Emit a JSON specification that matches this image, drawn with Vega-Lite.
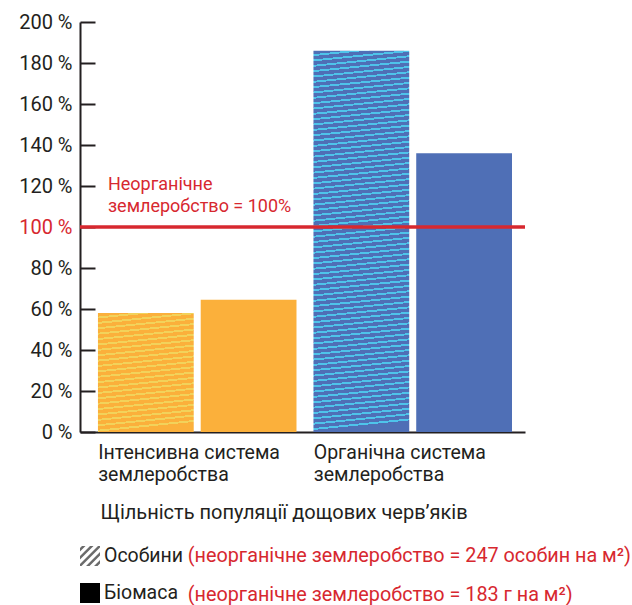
{
"$schema": "https://vega.github.io/schema/vega-lite/v6.json",
"width": 445,
"height": 410,
"autosize": {"type": "none"},
"padding": {"left": 80, "top": 22, "right": 107, "bottom": 173},
"config": {"font": "Roboto", "view": {"stroke": null}},
"data": {"values": [
{"system": "Інтенсивна система землеробства", "measure": "Особини", "value": 58, "note": "(неорганічне землеробство = 247 особин на м²)"},
{"system": "Інтенсивна система землеробства", "measure": "Біомаса", "value": 64.5, "note": "(неорганічне землеробство = 183 г на м²)"},
{"system": "Органічна система землеробства", "measure": "Особини", "value": 186, "note": "(неорганічне землеробство = 247 особин на м²)"},
{"system": "Органічна система землеробства", "measure": "Біомаса", "value": 136, "note": "(неорганічне землеробство = 183 г на м²)"}
]},
"layer": [
{
"encoding": {
"x": {"field": "system", "type": "nominal", "sort": ["Інтенсивна система землеробства", "Органічна система землеробства"],
 "scale": {"paddingInner": 0.0787, "paddingOuter": 0.0718, "align": 0.58},
 "axis": {"title": "Щільність популяції дощових черв’яків", "titleFontSize": 20, "titleFontWeight": "normal", "titleColor": "#231f20", "titleAnchor": "start", "titleAlign": "left", "titleX": 20, "titlePadding": 19,
  "labelAngle": 0, "labelAlign": "left", "labelBaseline": "top", "labelOffset": -99, "labelPadding": 11, "labelFontSize": 19.5, "labelLineHeight": 22, "labelLimit": 300, "labelColor": "#231f20",
  "labelExpr": "[replace(datum.label, ' землеробства', ''), 'землеробства']",
  "ticks": false, "domainColor": "#231f20", "domainWidth": 2}},
"xOffset": {"field": "measure", "type": "nominal", "sort": ["Особини", "Біомаса"], "scale": {"paddingInner": 0.068, "paddingOuter": 0}},
"y": {"field": "value", "type": "quantitative", "scale": {"domain": [0, 200]},
 "axis": {"title": null, "values": [0, 20, 40, 60, 80, 100, 120, 140, 160, 180, 200], "labelExpr": "datum.value + ' %'", "labelFontSize": 20,
  "labelColor": {"condition": {"test": "datum.value === 100", "value": "#d7282f"}, "value": "#231f20"},
  "tickSize": -15, "tickWidth": 2, "tickColor": "#231f20", "domainColor": "#231f20", "domainWidth": 2, "labelPadding": 23, "grid": false}}
},
"layer": [
{"transform": [{"filter": "datum.measure === 'Біомаса'"}], "mark": {"type": "bar"},
 "encoding": {"color": {"field": "system", "type": "nominal", "scale": {"domain": ["Інтенсивна система землеробства", "Органічна система землеробства"], "range": ["#fbb03b", "#4f6fb6"]}, "legend": null}}},
{"transform": [{"filter": "datum.measure === 'Особини' && datum.system === 'Інтенсивна система землеробства'"}],
 "mark": {"type": "bar", "fill": {"gradient": "linear", "x1": 0, "y1": 0, "x2": 0.081, "y2": 1, "stops": [
{"offset":0,"color":"#fbb03b"},{"offset":0.029,"color":"#fbb03b"},{"offset":0.029,"color":"#f2d25a"},{"offset":0.045,"color":"#f2d25a"},
{"offset":0.045,"color":"#fbb03b"},{"offset":0.074,"color":"#fbb03b"},{"offset":0.074,"color":"#f2d25a"},{"offset":0.09,"color":"#f2d25a"},
{"offset":0.09,"color":"#fbb03b"},{"offset":0.119,"color":"#fbb03b"},{"offset":0.119,"color":"#f2d25a"},{"offset":0.135,"color":"#f2d25a"},
{"offset":0.135,"color":"#fbb03b"},{"offset":0.164,"color":"#fbb03b"},{"offset":0.164,"color":"#f2d25a"},{"offset":0.18,"color":"#f2d25a"},
{"offset":0.18,"color":"#fbb03b"},{"offset":0.209,"color":"#fbb03b"},{"offset":0.209,"color":"#f2d25a"},{"offset":0.225,"color":"#f2d25a"},
{"offset":0.225,"color":"#fbb03b"},{"offset":0.254,"color":"#fbb03b"},{"offset":0.254,"color":"#f2d25a"},{"offset":0.27,"color":"#f2d25a"},
{"offset":0.27,"color":"#fbb03b"},{"offset":0.299,"color":"#fbb03b"},{"offset":0.299,"color":"#f2d25a"},{"offset":0.315,"color":"#f2d25a"},
{"offset":0.315,"color":"#fbb03b"},{"offset":0.344,"color":"#fbb03b"},{"offset":0.344,"color":"#f2d25a"},{"offset":0.36,"color":"#f2d25a"},
{"offset":0.36,"color":"#fbb03b"},{"offset":0.389,"color":"#fbb03b"},{"offset":0.389,"color":"#f2d25a"},{"offset":0.405,"color":"#f2d25a"},
{"offset":0.405,"color":"#fbb03b"},{"offset":0.434,"color":"#fbb03b"},{"offset":0.434,"color":"#f2d25a"},{"offset":0.45,"color":"#f2d25a"},
{"offset":0.45,"color":"#fbb03b"},{"offset":0.479,"color":"#fbb03b"},{"offset":0.479,"color":"#f2d25a"},{"offset":0.495,"color":"#f2d25a"},
{"offset":0.495,"color":"#fbb03b"},{"offset":0.524,"color":"#fbb03b"},{"offset":0.524,"color":"#f2d25a"},{"offset":0.54,"color":"#f2d25a"},
{"offset":0.54,"color":"#fbb03b"},{"offset":0.569,"color":"#fbb03b"},{"offset":0.569,"color":"#f2d25a"},{"offset":0.585,"color":"#f2d25a"},
{"offset":0.585,"color":"#fbb03b"},{"offset":0.614,"color":"#fbb03b"},{"offset":0.614,"color":"#f2d25a"},{"offset":0.63,"color":"#f2d25a"},
{"offset":0.63,"color":"#fbb03b"},{"offset":0.659,"color":"#fbb03b"},{"offset":0.659,"color":"#f2d25a"},{"offset":0.675,"color":"#f2d25a"},
{"offset":0.675,"color":"#fbb03b"},{"offset":0.704,"color":"#fbb03b"},{"offset":0.704,"color":"#f2d25a"},{"offset":0.72,"color":"#f2d25a"},
{"offset":0.72,"color":"#fbb03b"},{"offset":0.749,"color":"#fbb03b"},{"offset":0.749,"color":"#f2d25a"},{"offset":0.765,"color":"#f2d25a"},
{"offset":0.765,"color":"#fbb03b"},{"offset":0.794,"color":"#fbb03b"},{"offset":0.794,"color":"#f2d25a"},{"offset":0.81,"color":"#f2d25a"},
{"offset":0.81,"color":"#fbb03b"},{"offset":0.839,"color":"#fbb03b"},{"offset":0.839,"color":"#f2d25a"},{"offset":0.855,"color":"#f2d25a"},
{"offset":0.855,"color":"#fbb03b"},{"offset":0.884,"color":"#fbb03b"},{"offset":0.884,"color":"#f2d25a"},{"offset":0.9,"color":"#f2d25a"},
{"offset":0.9,"color":"#fbb03b"},{"offset":0.929,"color":"#fbb03b"},{"offset":0.929,"color":"#f2d25a"},{"offset":0.945,"color":"#f2d25a"},
{"offset":0.945,"color":"#fbb03b"},{"offset":0.974,"color":"#fbb03b"},{"offset":0.974,"color":"#f2d25a"},{"offset":0.99,"color":"#f2d25a"},
{"offset":0.99,"color":"#fbb03b"},{"offset":1,"color":"#fbb03b"}
]}}},
{"transform": [{"filter": "datum.measure === 'Особини' && datum.system === 'Органічна система землеробства'"}],
 "mark": {"type": "bar", "fill": {"gradient": "linear", "x1": 0, "y1": 0, "x2": 0.025, "y2": 1, "stops": [
{"offset":0,"color":"#4f6fb6"},{"offset":0.009,"color":"#4f6fb6"},{"offset":0.009,"color":"#4ec3ea"},{"offset":0.014,"color":"#4ec3ea"},
{"offset":0.014,"color":"#4f6fb6"},{"offset":0.023,"color":"#4f6fb6"},{"offset":0.023,"color":"#4ec3ea"},{"offset":0.028,"color":"#4ec3ea"},
{"offset":0.028,"color":"#4f6fb6"},{"offset":0.037,"color":"#4f6fb6"},{"offset":0.037,"color":"#4ec3ea"},{"offset":0.042,"color":"#4ec3ea"},
{"offset":0.042,"color":"#4f6fb6"},{"offset":0.051,"color":"#4f6fb6"},{"offset":0.051,"color":"#4ec3ea"},{"offset":0.056,"color":"#4ec3ea"},
{"offset":0.056,"color":"#4f6fb6"},{"offset":0.065,"color":"#4f6fb6"},{"offset":0.065,"color":"#4ec3ea"},{"offset":0.07,"color":"#4ec3ea"},
{"offset":0.07,"color":"#4f6fb6"},{"offset":0.079,"color":"#4f6fb6"},{"offset":0.079,"color":"#4ec3ea"},{"offset":0.084,"color":"#4ec3ea"},
{"offset":0.084,"color":"#4f6fb6"},{"offset":0.093,"color":"#4f6fb6"},{"offset":0.093,"color":"#4ec3ea"},{"offset":0.098,"color":"#4ec3ea"},
{"offset":0.098,"color":"#4f6fb6"},{"offset":0.107,"color":"#4f6fb6"},{"offset":0.107,"color":"#4ec3ea"},{"offset":0.112,"color":"#4ec3ea"},
{"offset":0.112,"color":"#4f6fb6"},{"offset":0.121,"color":"#4f6fb6"},{"offset":0.121,"color":"#4ec3ea"},{"offset":0.126,"color":"#4ec3ea"},
{"offset":0.126,"color":"#4f6fb6"},{"offset":0.135,"color":"#4f6fb6"},{"offset":0.135,"color":"#4ec3ea"},{"offset":0.14,"color":"#4ec3ea"},
{"offset":0.14,"color":"#4f6fb6"},{"offset":0.149,"color":"#4f6fb6"},{"offset":0.149,"color":"#4ec3ea"},{"offset":0.154,"color":"#4ec3ea"},
{"offset":0.154,"color":"#4f6fb6"},{"offset":0.163,"color":"#4f6fb6"},{"offset":0.163,"color":"#4ec3ea"},{"offset":0.168,"color":"#4ec3ea"},
{"offset":0.168,"color":"#4f6fb6"},{"offset":0.177,"color":"#4f6fb6"},{"offset":0.177,"color":"#4ec3ea"},{"offset":0.182,"color":"#4ec3ea"},
{"offset":0.182,"color":"#4f6fb6"},{"offset":0.191,"color":"#4f6fb6"},{"offset":0.191,"color":"#4ec3ea"},{"offset":0.196,"color":"#4ec3ea"},
{"offset":0.196,"color":"#4f6fb6"},{"offset":0.205,"color":"#4f6fb6"},{"offset":0.205,"color":"#4ec3ea"},{"offset":0.21,"color":"#4ec3ea"},
{"offset":0.21,"color":"#4f6fb6"},{"offset":0.219,"color":"#4f6fb6"},{"offset":0.219,"color":"#4ec3ea"},{"offset":0.224,"color":"#4ec3ea"},
{"offset":0.224,"color":"#4f6fb6"},{"offset":0.233,"color":"#4f6fb6"},{"offset":0.233,"color":"#4ec3ea"},{"offset":0.238,"color":"#4ec3ea"},
{"offset":0.238,"color":"#4f6fb6"},{"offset":0.247,"color":"#4f6fb6"},{"offset":0.247,"color":"#4ec3ea"},{"offset":0.252,"color":"#4ec3ea"},
{"offset":0.252,"color":"#4f6fb6"},{"offset":0.261,"color":"#4f6fb6"},{"offset":0.261,"color":"#4ec3ea"},{"offset":0.266,"color":"#4ec3ea"},
{"offset":0.266,"color":"#4f6fb6"},{"offset":0.275,"color":"#4f6fb6"},{"offset":0.275,"color":"#4ec3ea"},{"offset":0.28,"color":"#4ec3ea"},
{"offset":0.28,"color":"#4f6fb6"},{"offset":0.289,"color":"#4f6fb6"},{"offset":0.289,"color":"#4ec3ea"},{"offset":0.294,"color":"#4ec3ea"},
{"offset":0.294,"color":"#4f6fb6"},{"offset":0.303,"color":"#4f6fb6"},{"offset":0.303,"color":"#4ec3ea"},{"offset":0.308,"color":"#4ec3ea"},
{"offset":0.308,"color":"#4f6fb6"},{"offset":0.317,"color":"#4f6fb6"},{"offset":0.317,"color":"#4ec3ea"},{"offset":0.322,"color":"#4ec3ea"},
{"offset":0.322,"color":"#4f6fb6"},{"offset":0.331,"color":"#4f6fb6"},{"offset":0.331,"color":"#4ec3ea"},{"offset":0.336,"color":"#4ec3ea"},
{"offset":0.336,"color":"#4f6fb6"},{"offset":0.345,"color":"#4f6fb6"},{"offset":0.345,"color":"#4ec3ea"},{"offset":0.35,"color":"#4ec3ea"},
{"offset":0.35,"color":"#4f6fb6"},{"offset":0.359,"color":"#4f6fb6"},{"offset":0.359,"color":"#4ec3ea"},{"offset":0.364,"color":"#4ec3ea"},
{"offset":0.364,"color":"#4f6fb6"},{"offset":0.373,"color":"#4f6fb6"},{"offset":0.373,"color":"#4ec3ea"},{"offset":0.378,"color":"#4ec3ea"},
{"offset":0.378,"color":"#4f6fb6"},{"offset":0.387,"color":"#4f6fb6"},{"offset":0.387,"color":"#4ec3ea"},{"offset":0.392,"color":"#4ec3ea"},
{"offset":0.392,"color":"#4f6fb6"},{"offset":0.401,"color":"#4f6fb6"},{"offset":0.401,"color":"#4ec3ea"},{"offset":0.406,"color":"#4ec3ea"},
{"offset":0.406,"color":"#4f6fb6"},{"offset":0.415,"color":"#4f6fb6"},{"offset":0.415,"color":"#4ec3ea"},{"offset":0.42,"color":"#4ec3ea"},
{"offset":0.42,"color":"#4f6fb6"},{"offset":0.429,"color":"#4f6fb6"},{"offset":0.429,"color":"#4ec3ea"},{"offset":0.434,"color":"#4ec3ea"},
{"offset":0.434,"color":"#4f6fb6"},{"offset":0.443,"color":"#4f6fb6"},{"offset":0.443,"color":"#4ec3ea"},{"offset":0.448,"color":"#4ec3ea"},
{"offset":0.448,"color":"#4f6fb6"},{"offset":0.457,"color":"#4f6fb6"},{"offset":0.457,"color":"#4ec3ea"},{"offset":0.462,"color":"#4ec3ea"},
{"offset":0.462,"color":"#4f6fb6"},{"offset":0.471,"color":"#4f6fb6"},{"offset":0.471,"color":"#4ec3ea"},{"offset":0.476,"color":"#4ec3ea"},
{"offset":0.476,"color":"#4f6fb6"},{"offset":0.485,"color":"#4f6fb6"},{"offset":0.485,"color":"#4ec3ea"},{"offset":0.49,"color":"#4ec3ea"},
{"offset":0.49,"color":"#4f6fb6"},{"offset":0.499,"color":"#4f6fb6"},{"offset":0.499,"color":"#4ec3ea"},{"offset":0.504,"color":"#4ec3ea"},
{"offset":0.504,"color":"#4f6fb6"},{"offset":0.513,"color":"#4f6fb6"},{"offset":0.513,"color":"#4ec3ea"},{"offset":0.518,"color":"#4ec3ea"},
{"offset":0.518,"color":"#4f6fb6"},{"offset":0.527,"color":"#4f6fb6"},{"offset":0.527,"color":"#4ec3ea"},{"offset":0.532,"color":"#4ec3ea"},
{"offset":0.532,"color":"#4f6fb6"},{"offset":0.541,"color":"#4f6fb6"},{"offset":0.541,"color":"#4ec3ea"},{"offset":0.546,"color":"#4ec3ea"},
{"offset":0.546,"color":"#4f6fb6"},{"offset":0.555,"color":"#4f6fb6"},{"offset":0.555,"color":"#4ec3ea"},{"offset":0.56,"color":"#4ec3ea"},
{"offset":0.56,"color":"#4f6fb6"},{"offset":0.569,"color":"#4f6fb6"},{"offset":0.569,"color":"#4ec3ea"},{"offset":0.574,"color":"#4ec3ea"},
{"offset":0.574,"color":"#4f6fb6"},{"offset":0.583,"color":"#4f6fb6"},{"offset":0.583,"color":"#4ec3ea"},{"offset":0.588,"color":"#4ec3ea"},
{"offset":0.588,"color":"#4f6fb6"},{"offset":0.597,"color":"#4f6fb6"},{"offset":0.597,"color":"#4ec3ea"},{"offset":0.602,"color":"#4ec3ea"},
{"offset":0.602,"color":"#4f6fb6"},{"offset":0.611,"color":"#4f6fb6"},{"offset":0.611,"color":"#4ec3ea"},{"offset":0.616,"color":"#4ec3ea"},
{"offset":0.616,"color":"#4f6fb6"},{"offset":0.625,"color":"#4f6fb6"},{"offset":0.625,"color":"#4ec3ea"},{"offset":0.63,"color":"#4ec3ea"},
{"offset":0.63,"color":"#4f6fb6"},{"offset":0.639,"color":"#4f6fb6"},{"offset":0.639,"color":"#4ec3ea"},{"offset":0.644,"color":"#4ec3ea"},
{"offset":0.644,"color":"#4f6fb6"},{"offset":0.653,"color":"#4f6fb6"},{"offset":0.653,"color":"#4ec3ea"},{"offset":0.658,"color":"#4ec3ea"},
{"offset":0.658,"color":"#4f6fb6"},{"offset":0.667,"color":"#4f6fb6"},{"offset":0.667,"color":"#4ec3ea"},{"offset":0.672,"color":"#4ec3ea"},
{"offset":0.672,"color":"#4f6fb6"},{"offset":0.681,"color":"#4f6fb6"},{"offset":0.681,"color":"#4ec3ea"},{"offset":0.686,"color":"#4ec3ea"},
{"offset":0.686,"color":"#4f6fb6"},{"offset":0.695,"color":"#4f6fb6"},{"offset":0.695,"color":"#4ec3ea"},{"offset":0.7,"color":"#4ec3ea"},
{"offset":0.7,"color":"#4f6fb6"},{"offset":0.709,"color":"#4f6fb6"},{"offset":0.709,"color":"#4ec3ea"},{"offset":0.714,"color":"#4ec3ea"},
{"offset":0.714,"color":"#4f6fb6"},{"offset":0.723,"color":"#4f6fb6"},{"offset":0.723,"color":"#4ec3ea"},{"offset":0.728,"color":"#4ec3ea"},
{"offset":0.728,"color":"#4f6fb6"},{"offset":0.737,"color":"#4f6fb6"},{"offset":0.737,"color":"#4ec3ea"},{"offset":0.742,"color":"#4ec3ea"},
{"offset":0.742,"color":"#4f6fb6"},{"offset":0.751,"color":"#4f6fb6"},{"offset":0.751,"color":"#4ec3ea"},{"offset":0.756,"color":"#4ec3ea"},
{"offset":0.756,"color":"#4f6fb6"},{"offset":0.765,"color":"#4f6fb6"},{"offset":0.765,"color":"#4ec3ea"},{"offset":0.77,"color":"#4ec3ea"},
{"offset":0.77,"color":"#4f6fb6"},{"offset":0.779,"color":"#4f6fb6"},{"offset":0.779,"color":"#4ec3ea"},{"offset":0.784,"color":"#4ec3ea"},
{"offset":0.784,"color":"#4f6fb6"},{"offset":0.793,"color":"#4f6fb6"},{"offset":0.793,"color":"#4ec3ea"},{"offset":0.798,"color":"#4ec3ea"},
{"offset":0.798,"color":"#4f6fb6"},{"offset":0.807,"color":"#4f6fb6"},{"offset":0.807,"color":"#4ec3ea"},{"offset":0.812,"color":"#4ec3ea"},
{"offset":0.812,"color":"#4f6fb6"},{"offset":0.821,"color":"#4f6fb6"},{"offset":0.821,"color":"#4ec3ea"},{"offset":0.826,"color":"#4ec3ea"},
{"offset":0.826,"color":"#4f6fb6"},{"offset":0.835,"color":"#4f6fb6"},{"offset":0.835,"color":"#4ec3ea"},{"offset":0.84,"color":"#4ec3ea"},
{"offset":0.84,"color":"#4f6fb6"},{"offset":0.849,"color":"#4f6fb6"},{"offset":0.849,"color":"#4ec3ea"},{"offset":0.854,"color":"#4ec3ea"},
{"offset":0.854,"color":"#4f6fb6"},{"offset":0.863,"color":"#4f6fb6"},{"offset":0.863,"color":"#4ec3ea"},{"offset":0.868,"color":"#4ec3ea"},
{"offset":0.868,"color":"#4f6fb6"},{"offset":0.877,"color":"#4f6fb6"},{"offset":0.877,"color":"#4ec3ea"},{"offset":0.882,"color":"#4ec3ea"},
{"offset":0.882,"color":"#4f6fb6"},{"offset":0.891,"color":"#4f6fb6"},{"offset":0.891,"color":"#4ec3ea"},{"offset":0.896,"color":"#4ec3ea"},
{"offset":0.896,"color":"#4f6fb6"},{"offset":0.905,"color":"#4f6fb6"},{"offset":0.905,"color":"#4ec3ea"},{"offset":0.91,"color":"#4ec3ea"},
{"offset":0.91,"color":"#4f6fb6"},{"offset":0.919,"color":"#4f6fb6"},{"offset":0.919,"color":"#4ec3ea"},{"offset":0.924,"color":"#4ec3ea"},
{"offset":0.924,"color":"#4f6fb6"},{"offset":0.933,"color":"#4f6fb6"},{"offset":0.933,"color":"#4ec3ea"},{"offset":0.938,"color":"#4ec3ea"},
{"offset":0.938,"color":"#4f6fb6"},{"offset":0.947,"color":"#4f6fb6"},{"offset":0.947,"color":"#4ec3ea"},{"offset":0.952,"color":"#4ec3ea"},
{"offset":0.952,"color":"#4f6fb6"},{"offset":0.961,"color":"#4f6fb6"},{"offset":0.961,"color":"#4ec3ea"},{"offset":0.966,"color":"#4ec3ea"},
{"offset":0.966,"color":"#4f6fb6"},{"offset":0.975,"color":"#4f6fb6"},{"offset":0.975,"color":"#4ec3ea"},{"offset":0.98,"color":"#4ec3ea"},
{"offset":0.98,"color":"#4f6fb6"},{"offset":0.989,"color":"#4f6fb6"},{"offset":0.989,"color":"#4ec3ea"},{"offset":0.994,"color":"#4ec3ea"},
{"offset":0.994,"color":"#4f6fb6"},{"offset":1,"color":"#4f6fb6"}
]}}},
{"mark": {"type": "point", "opacity": 0, "filled": true, "strokeWidth": 0},
 "encoding": {
 "fill": {"field": "measure", "type": "nominal", "sort": ["Особини", "Біомаса"],
  "scale": {"domain": ["Особини", "Біомаса"], "range": ["#6b6b6b", "#000000"]},
  "legend": {"title": null, "orient": "none", "legendX": 0, "legendY": 524, "direction": "vertical", "symbolSize": 400, "symbolOpacity": 1, "symbolStrokeWidth": 0, "labelFontSize": 19.5, "labelColor": "#231f20", "labelOffset": 4, "rowPadding": 17, "padding": 0}},
 "shape": {"field": "measure", "type": "nominal", "sort": ["Особини", "Біомаса"],
  "scale": {"domain": ["Особини", "Біомаса"], "range": ["M-1,-0.8L-0.8,-1L-0.45,-1L-1,-0.45Z M-1,0L0,-1L0.35,-1L-1,0.35Z M-1,0.8L0.8,-1L1,-1L1,-0.85L-0.85,1L-1,1Z M-0.4,1L1,-0.4L1,-0.05L-0.05,1Z M0.4,1L1,0.4L1,0.75L0.75,1Z", "square"]},
  "legend": {"title": null, "orient": "none", "legendX": 0, "legendY": 524, "direction": "vertical", "symbolSize": 400, "symbolOpacity": 1, "symbolStrokeWidth": 0, "labelFontSize": 19.5, "labelColor": "#231f20", "labelOffset": 4, "rowPadding": 17, "padding": 0}},
 "strokeDash": {"field": "note", "type": "nominal", "sort": ["(неорганічне землеробство = 247 особин на м²)", "(неорганічне землеробство = 183 г на м²)"],
  "legend": {"title": null, "orient": "none", "legendX": 88, "legendY": 524, "direction": "vertical", "symbolSize": 0, "symbolOpacity": 0, "symbolStrokeWidth": 0, "labelFontSize": 19.8, "labelColor": "#d7282f", "labelOffset": 0, "rowPadding": 18, "padding": 0, "labelLimit": 600}}
 }}
]
},
{"data": {"values": [{}]}, "mark": {"type": "rule", "stroke": "#d7282f", "strokeWidth": 3.5},
 "encoding": {"y": {"datum": 100, "type": "quantitative"}}},
{"data": {"values": [{}]}, "mark": {"type": "text", "text": ["Неорганічне", "землеробство = 100%"], "align": "left", "baseline": "bottom", "dx": 10, "dy": -33, "fontSize": 18, "lineHeight": 22, "color": "#d7282f"},
 "encoding": {"x": {"datum": "Інтенсивна система землеробства", "type": "nominal", "bandPosition": 0}, "y": {"datum": 100, "type": "quantitative"}}}
]
}
